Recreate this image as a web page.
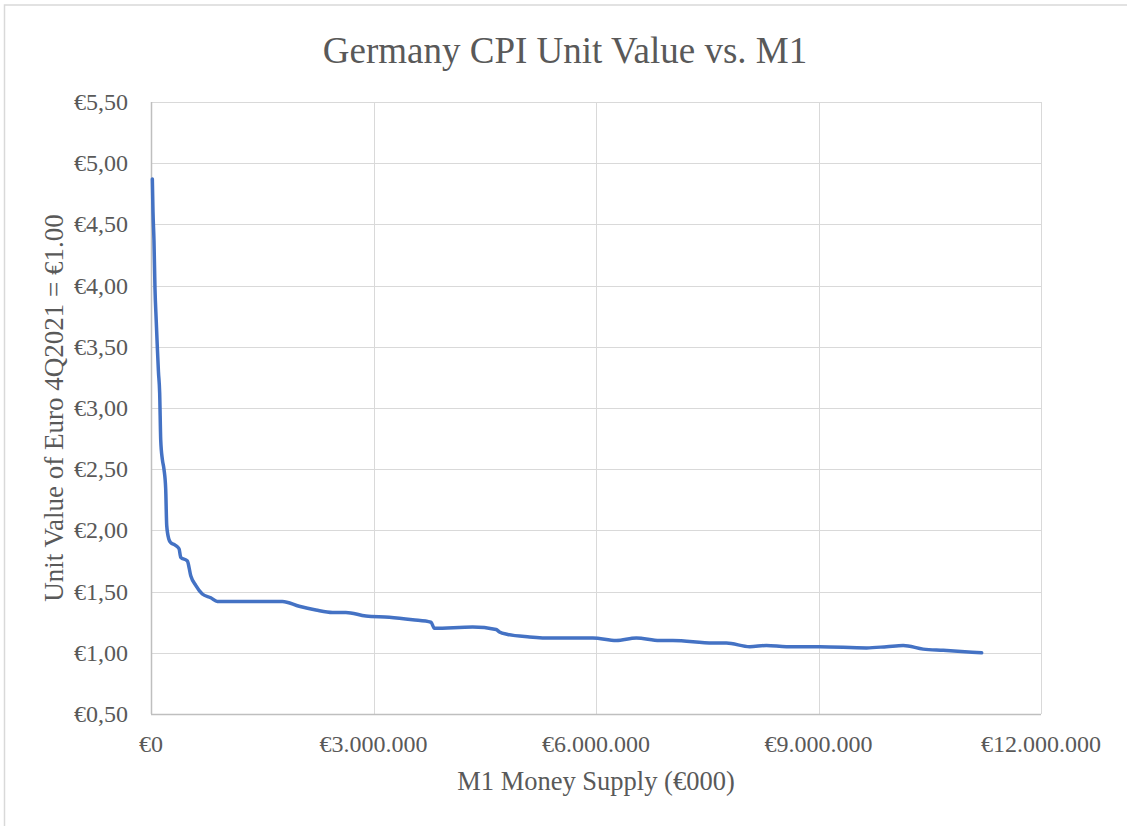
<!DOCTYPE html>
<html lang="en">
  <head>
    <meta charset="utf-8" />
    <title>Germany CPI Unit Value vs. M1</title>
    <style>
      body {
        margin: 0;
        background: #fff;
      }
      svg {
        display: block;
        font-family: "Liberation Serif", "Times New Roman", serif;
      }
      .grid line {
        stroke: #d9d9d9;
        stroke-width: 1px;
      }
      .axis-text {
        fill: #595959;
        font-size: 24px;
      }
    </style>
  </head>
  <body>
    <svg></svg>

    <script src="https://d3js.org/d3.v7.min.js"></script>
    <script>
      // M1 money supply (EUR 000) and unit value of the euro (4Q2021 = 1.00)
      const m1 = [
        18000, 27000, 40000, 54000, 70000, 85000, 100000, 117000, 131000,
        153000, 175000, 198000, 212000, 240000, 266000, 324000, 378000,
        401000, 490000, 536000, 603000, 692000, 806000, 895000, 1772000,
        1998000, 2223000, 2447000, 2628000, 2898000, 3213000, 3527000,
        3776000, 3820000, 4337000, 4653000, 4698000, 4810000, 5103000,
        5417000, 5957000, 6273000, 6543000, 6857000, 7037000, 7577000,
        7758000, 8073000, 8298000, 8568000, 9017000, 9648000, 9918000,
        10142000, 10412000, 10682000, 11200000,
      ];
      const unitValue = [
        4.87, 4.6, 4.37, 3.97, 3.72, 3.5, 3.3, 3.12, 2.74, 2.58, 2.5, 2.34,
        2.04, 1.93, 1.9, 1.88, 1.85, 1.78, 1.75, 1.63, 1.55, 1.48, 1.45, 1.42,
        1.42, 1.38, 1.35, 1.33, 1.33, 1.3, 1.29, 1.27, 1.25, 1.2, 1.21, 1.19,
        1.17, 1.15, 1.13, 1.12, 1.12, 1.1, 1.12, 1.1, 1.1, 1.08, 1.08, 1.05,
        1.06, 1.05, 1.05, 1.04, 1.05, 1.06, 1.03, 1.02, 1.0,
      ];
      const xTicks = [0, 3000000, 6000000, 9000000, 12000000];
      const yTicks = [0.5, 1, 1.5, 2, 2.5, 3, 3.5, 4, 4.5, 5, 5.5];

      const title = "Germany CPI Unit Value vs. M1";
      const xTitle = "M1 Money Supply (\u20ac000)";
      const yTitle = "Unit Value of Euro 4Q2021 = \u20ac1.00";

      const width = 1127;
      const height = 826;
      const plot = { left: 151, right: 1041, top: 102, bottom: 714 };

      const euro = d3.formatLocale({
        decimal: ",",
        thousands: ".",
        grouping: [3],
        currency: ["\u20ac", ""],
      });
      const fmtX = euro.format("$,.0f");
      const fmtY = euro.format("$.2f");

      const svg = d3
        .select("svg")
        .attr("width", width)
        .attr("height", height);

      // chart border
      svg
        .append("rect")
        .attr("x", 4.5)
        .attr("y", 5)
        .attr("width", 1140)
        .attr("height", 840)
        .attr("fill", "#fff")
        .attr("stroke", "#d9d9d9")
        .attr("stroke-width", 1.5);

      const x = d3
        .scaleLinear()
        .domain([0, 12000000])
        .range([plot.left, plot.right]);
      const y = d3
        .scaleLinear()
        .domain([0.5, 5.5])
        .range([plot.bottom, plot.top]);

      // gridlines
      const grid = svg.append("g").attr("class", "grid");
      grid
        .selectAll("line.h")
        .data(yTicks)
        .join("line")
        .attr("class", "h")
        .attr("x1", plot.left)
        .attr("x2", plot.right)
        .attr("y1", (d) => Math.round(y(d)) + 0.5)
        .attr("y2", (d) => Math.round(y(d)) + 0.5);
      grid
        .selectAll("line.v")
        .data(xTicks)
        .join("line")
        .attr("class", "v")
        .attr("x1", (d) => Math.round(x(d)) + 0.5)
        .attr("x2", (d) => Math.round(x(d)) + 0.5)
        .attr("y1", plot.top)
        .attr("y2", plot.bottom);

      // axis lines
      svg
        .append("line")
        .attr("x1", plot.left + 0.5)
        .attr("x2", plot.left + 0.5)
        .attr("y1", plot.top)
        .attr("y2", plot.bottom)
        .attr("stroke", "#bfbfbf")
        .attr("stroke-width", 1.5);
      svg
        .append("line")
        .attr("x1", plot.left)
        .attr("x2", plot.right)
        .attr("y1", plot.bottom + 0.5)
        .attr("y2", plot.bottom + 0.5)
        .attr("stroke", "#bfbfbf")
        .attr("stroke-width", 1.5);

      // tick labels
      svg
        .append("g")
        .selectAll("text")
        .data(yTicks)
        .join("text")
        .attr("class", "axis-text")
        .attr("x", plot.left - 23)
        .attr("y", (d) => y(d))
        .attr("dy", "0.33em")
        .attr("text-anchor", "end")
        .text((d) => fmtY(d));
      svg
        .append("g")
        .selectAll("text")
        .data(xTicks)
        .join("text")
        .attr("class", "axis-text")
        .attr("x", (d) => x(d))
        .attr("y", plot.bottom + 38)
        .attr("text-anchor", "middle")
        .text((d) => fmtX(d));

      // data line
      const data = m1.map((v, i) => ({ x: v, y: unitValue[i] }));
      svg
        .append("path")
        .datum(data)
        .attr("fill", "none")
        .attr("stroke", "#4472c4")
        .attr("stroke-width", 3.5)
        .attr("stroke-linejoin", "round")
        .attr("stroke-linecap", "round")
        .attr(
          "d",
          d3
            .line()
            .x((d) => x(d.x))
            .y((d) => y(d.y))
            .curve(d3.curveMonotoneX)
        );

      // titles
      svg
        .append("text")
        .attr("x", 565)
        .attr("y", 63)
        .attr("text-anchor", "middle")
        .attr("fill", "#595959")
        .attr("font-size", 37)
        .text(title);
      svg
        .append("text")
        .attr("x", (plot.left + plot.right) / 2)
        .attr("y", 790)
        .attr("text-anchor", "middle")
        .attr("fill", "#595959")
        .attr("font-size", 26.5)
        .text(xTitle);
      svg
        .append("text")
        .attr(
          "transform",
          `translate(63,${(plot.top + plot.bottom) / 2}) rotate(-90)`
        )
        .attr("text-anchor", "middle")
        .attr("fill", "#595959")
        .attr("font-size", 27)
        .text(yTitle);
    </script>
  </body>
</html>
